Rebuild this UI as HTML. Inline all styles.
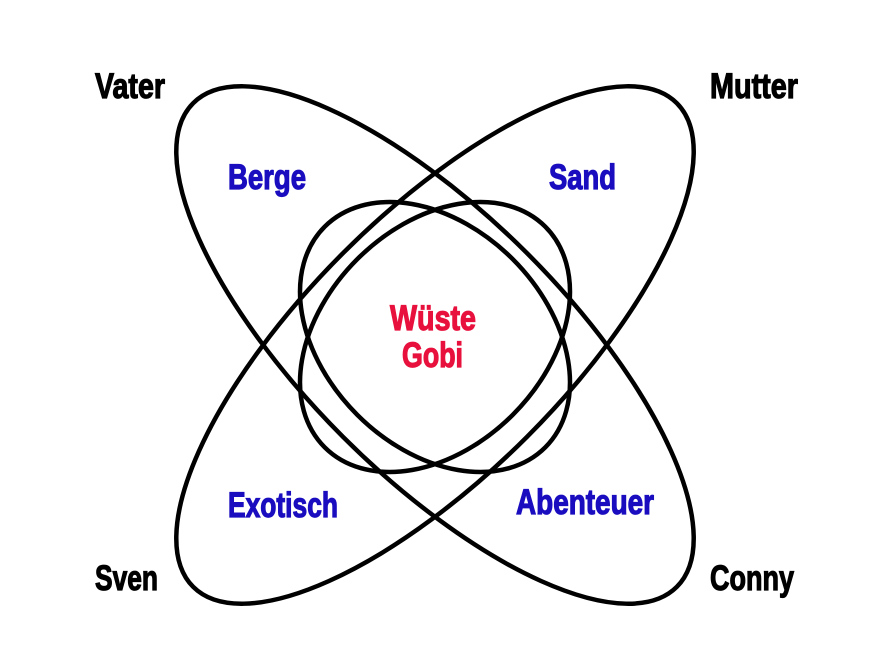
<!DOCTYPE html>
<html><head><meta charset="utf-8"><style>
html,body{margin:0;padding:0;background:#fff;}
svg{display:block;}
text{font-family:"Liberation Sans Narrow","Liberation Sans",sans-serif;font-weight:bold;font-size:35px;stroke-width:1.2px;}
</style></head><body>
<svg width="873" height="655" viewBox="0 0 873 655" xmlns="http://www.w3.org/2000/svg">
<g fill="none" stroke="#000" stroke-width="4.5">
<ellipse cx="435" cy="345" rx="342" ry="130" transform="rotate(45 435 345)"/>
<ellipse cx="435" cy="345" rx="342" ry="130" transform="rotate(-45 435 345)"/>
<ellipse cx="435" cy="337" rx="156" ry="110" transform="rotate(45 435 337)"/>
<ellipse cx="435" cy="337" rx="156" ry="110" transform="rotate(-45 435 337)"/>
</g>
<g fill="#000" stroke="#000">
<text x="95" y="98" textLength="70" lengthAdjust="spacingAndGlyphs">Vater</text>
<text x="710" y="98" textLength="88" lengthAdjust="spacingAndGlyphs">Mutter</text>
<text x="95" y="590" textLength="63" lengthAdjust="spacingAndGlyphs">Sven</text>
<text x="710" y="590" textLength="84" lengthAdjust="spacingAndGlyphs">Conny</text>
</g>
<g fill="#1a0dbf" stroke="#1a0dbf">
<text x="228" y="189" textLength="78" lengthAdjust="spacingAndGlyphs">Berge</text>
<text x="549" y="189" textLength="67" lengthAdjust="spacingAndGlyphs">Sand</text>
<text x="228" y="517" textLength="110" lengthAdjust="spacingAndGlyphs">Exotisch</text>
<text x="516" y="514" textLength="138" lengthAdjust="spacingAndGlyphs">Abenteuer</text>
</g>
<g fill="#e8103c" stroke="#e8103c">
<text x="390" y="330" textLength="86" lengthAdjust="spacingAndGlyphs">Wüste</text>
<text x="402" y="367" textLength="61" lengthAdjust="spacingAndGlyphs">Gobi</text>
</g>
</svg>
</body></html>
